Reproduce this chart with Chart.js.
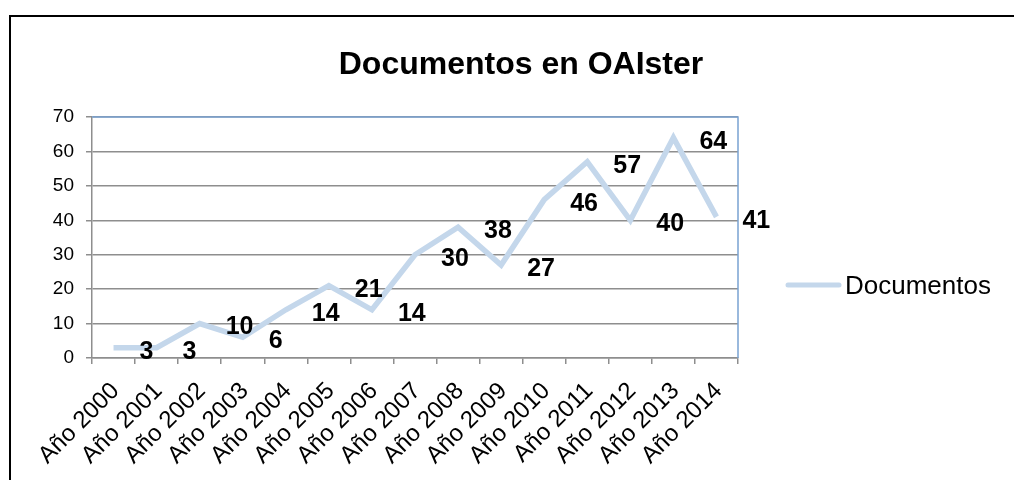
<!DOCTYPE html>
<html>
<head>
<meta charset="utf-8">
<script src="https://cdn.jsdelivr.net/npm/chart.js@4"></script>
<style>
  html, body { margin: 0; padding: 0; background: #fff; }
  #wrap { width: 1014px; height: 480px; }
</style>
</head>
<body>
<div id="wrap"><canvas id="chart"></canvas></div>
<script>
const years = ['Año 2000', 'Año 2001', 'Año 2002', 'Año 2003', 'Año 2004', 'Año 2005', 'Año 2006',
    'Año 2007', 'Año 2008', 'Año 2009', 'Año 2010', 'Año 2011', 'Año 2012', 'Año 2013', 'Año 2014'];
const documentos = [3, 3, 10, 6, 14, 21, 14, 30, 38, 27, 46, 57, 40, 64, 41];
const yMin = 0;
const yMax = 70;
const yStep = 10;

const lineColor = '#c4d7eb';
const gridColor = '#8e8e8e';
const fontFamily = 'Arial, "Liberation Sans", sans-serif';

// white background + outer black frame of the Excel chart object
const framePlugin = {
    id: 'frame',
    beforeDraw(chart) {
        const ctx = chart.ctx;
        ctx.save();
        ctx.fillStyle = '#fff';
        ctx.fillRect(0, 0, chart.width, chart.height);
        ctx.strokeStyle = '#000';
        ctx.lineWidth = 2;
        ctx.strokeRect(10, 16, chart.width + 50, chart.height + 50);
        ctx.restore();
    },
    afterDraw(chart) {
        // blue top and right border of the plot area
        const { top, right, left, bottom } = chart.chartArea;
        const ctx = chart.ctx;
        ctx.save();
        ctx.strokeStyle = '#7aa2d2';
        ctx.lineWidth = 1.5;
        ctx.beginPath();
        ctx.moveTo(left, top);
        ctx.lineTo(right, top);
        ctx.lineTo(right, bottom);
        ctx.stroke();
        ctx.restore();
    }
};

const valueLabelPlugin = {
    id: 'valueLabels',
    afterDatasetsDraw(chart) {
        const ctx = chart.ctx;
        ctx.save();
        ctx.font = 'bold 25px ' + fontFamily;
        ctx.fillStyle = '#000';
        ctx.textAlign = 'left';
        ctx.textBaseline = 'middle';
        chart.data.datasets.forEach((dataset, i) => {
            chart.getDatasetMeta(i).data.forEach((pt, j) => {
                ctx.fillText(String(dataset.data[j]), pt.x + 26, pt.y + 4);
            });
        });
        ctx.restore();
    }
};

const customLegendPlugin = {
    id: 'customLegend',
    afterDraw(chart) {
        const ctx = chart.ctx;
        const dataset = chart.data.datasets[0];
        const y = 285;
        ctx.save();
        ctx.strokeStyle = dataset.borderColor;
        ctx.lineWidth = 5;
        ctx.lineCap = 'round';
        ctx.beginPath();
        ctx.moveTo(788, y);
        ctx.lineTo(839, y);
        ctx.stroke();
        ctx.font = '26px ' + fontFamily;
        ctx.fillStyle = '#000';
        ctx.textAlign = 'left';
        ctx.textBaseline = 'middle';
        ctx.fillText(dataset.label, 845, y + 2);
        ctx.restore();
    }
};

const ctx = document.getElementById('chart').getContext('2d');
new Chart(ctx, {
    type: 'line',
    data: {
        labels: years,
        datasets: [{
            label: 'Documentos',
            data: documentos,
            borderColor: lineColor,
            backgroundColor: lineColor,
            borderWidth: 5.5,
            pointRadius: 0,
            tension: 0,
            fill: false
        }]
    },
    options: {
        responsive: true,
        maintainAspectRatio: false,
        animation: false,
        layout: { padding: { left: 28, right: 0, top: 0, bottom: 0 } },
        plugins: {
            legend: { display: false },
            tooltip: { enabled: false },
            title: {
                display: true,
                text: 'Documentos en OAIster',
                color: '#000',
                font: { family: fontFamily, size: 32, weight: 'bold', lineHeight: 1.2 },
                padding: { top: 46, bottom: 32.6 }
            }
        },
        scales: {
            x: {
                offset: true,
                grid: {
                    offset: true,
                    drawOnChartArea: false,
                    drawTicks: true,
                    tickLength: 6,
                    color: gridColor,
                    lineWidth: 1.5
                },
                border: { color: gridColor, width: 1.5 },
                ticks: {
                    color: '#000',
                    font: { family: fontFamily, size: 24 },
                    minRotation: 45,
                    maxRotation: 45,
                    autoSkip: false,
                    labelOffset: 2,
                    padding: 13
                },
                afterFit(scale) { scale.height = 122; }
            },
            y: {
                min: yMin,
                max: yMax,
                grid: {
                    color: gridColor,
                    lineWidth: 1.5,
                    tickLength: 6
                },
                border: { color: gridColor, width: 1.5 },
                ticks: {
                    stepSize: yStep,
                    color: '#000',
                    padding: 12,
                    font: { family: fontFamily, size: 19 }
                },
                afterFit(scale) { scale.width = 64; }
            },
            spacer: {
                position: 'right',
                display: true,
                grid: { display: false },
                border: { display: false },
                ticks: { display: false },
                afterFit(scale) { scale.width = 276; }
            }
        }
    },
    plugins: [framePlugin, valueLabelPlugin, customLegendPlugin]
});
</script>
</body>
</html>
